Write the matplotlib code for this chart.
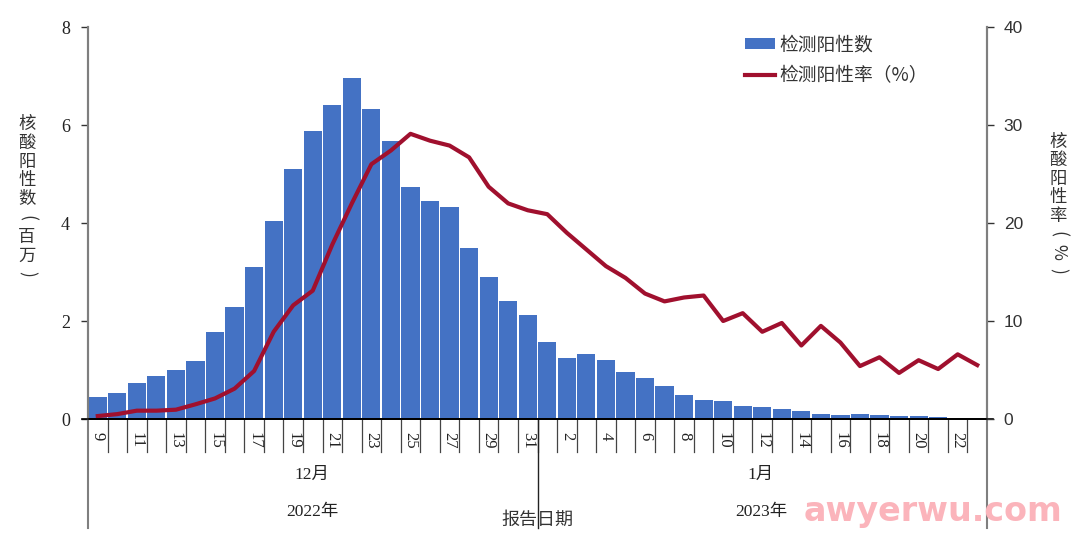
import matplotlib
matplotlib.use("Agg")
import matplotlib.pyplot as plt
import numpy as np
from matplotlib.transforms import blended_transform_factory

plt.rcParams['font.family'] = ['Liberation Serif', 'Noto Sans CJK SC', 'DejaVu Sans']

day_labels = ["9", "10", "11", "12", "13", "14", "15", "16", "17", "18", "19", "20", "21", "22", "23",
              "24", "25", "26", "27", "28", "29", "30", "31",
              "1", "2", "3", "4", "5", "6", "7", "8", "9", "10", "11", "12", "13", "14", "15", "16",
              "17", "18", "19", "20", "21", "22", "23"]
positive_counts = [0.44, 0.53, 0.73, 0.87, 1.01, 1.19, 1.78, 2.28, 3.10, 4.05, 5.10, 5.88, 6.40, 6.95, 6.32,
                   5.67, 4.73, 4.45, 4.33, 3.50, 2.90, 2.40, 2.13,
                   1.57, 1.25, 1.33, 1.20, 0.95, 0.83, 0.67, 0.48, 0.39, 0.37, 0.27, 0.25, 0.21, 0.17, 0.11,
                   0.09, 0.11, 0.09, 0.06, 0.06, 0.04, 0.02, 0.0]
positive_rate = [0.3, 0.5, 0.85, 0.85, 0.95, 1.5, 2.1, 3.1, 4.9, 8.9, 11.6, 13.1, 17.8, 22.0, 26.0,
                 27.4, 29.1, 28.4, 27.9, 26.7, 23.7, 22.0, 21.3,
                 20.9, 19.0, 17.3, 15.6, 14.4, 12.8, 12.0, 12.4, 12.6, 10.0, 10.8, 8.9, 9.8, 7.5, 9.5,
                 7.8, 5.4, 6.3, 4.7, 6.0, 5.1, 6.6, 5.5]
left_ticks = [0, 2, 4, 6, 8]
right_ticks = [0, 10, 20, 30, 40]

BAR_COLOR = "#4472C4"
LINE_COLOR = "#A0102E"
GRAY = "#7F7F7F"
SANS = ["Noto Sans CJK SC", "DejaVu Sans"]
W, H = 1080, 543

fig = plt.figure(figsize=(W / 100, H / 100), dpi=100)
ax = fig.add_axes([88 / W, 1 - 419 / H, (987 - 88) / W, (419 - 27) / H])
ax2 = ax.twinx()

x = np.arange(len(day_labels))
bars = ax.bar(x, positive_counts, width=0.93, color=BAR_COLOR, zorder=2)
line, = ax2.plot(x, positive_rate, color=LINE_COLOR, lw=3, solid_joinstyle="round")

ax.set_xlim(-0.5, len(x) - 0.5)
ax.set_ylim(0, 8)
ax2.set_ylim(0, 40)
ax.set_yticks(left_ticks)
ax2.set_yticks(right_ticks)
ax.set_xticks([])
ax.tick_params(axis="y", length=5, width=1, labelsize=13, pad=8, color="#333333", labelcolor="#222222")
ax2.tick_params(axis="y", length=5, width=1, labelsize=12.5, pad=7, color="#333333", labelcolor="#333333")
for t in ax2.get_yticklabels():
    t.set_family(["Liberation Sans"])

for a in (ax, ax2):
    a.spines["top"].set_visible(False)
    a.spines["left"].set_color(GRAY)
    a.spines["right"].set_color(GRAY)
    a.spines["left"].set_linewidth(1.5)
    a.spines["right"].set_linewidth(1.5)
    a.spines["bottom"].set_color("black")
    a.spines["bottom"].set_linewidth(1.2)

# baseline sticks out a little past both spines
ax.plot([-0.8, len(x) - 0.2], [0, 0], color="black", lw=1.2, clip_on=False, zorder=3)

# category separators and day labels under the axis
trans = blended_transform_factory(ax.transData, ax.transAxes)
tick_low = (419 - 452) / 392
long_low = (419 - 528) / 392
for i in range(1, len(x)):
    ax.plot([i - 0.5, i - 0.5], [0, tick_low], transform=trans, color="#444444", lw=0.9, clip_on=False)
for i in range(0, len(x) - 1, 2):
    ax.text(i, -0.034, day_labels[i], transform=trans, rotation=270, ha="center", va="top",
            fontsize=12, color="#222222")
ax.plot([-0.5, -0.5], [0, long_low], transform=trans, color=GRAY, lw=1.5, clip_on=False)
ax.plot([22.5, 22.5], [0, long_low], transform=trans, color="#222222", lw=1, clip_on=False)
ax.plot([45.5, 45.5], [0, long_low], transform=trans, color=GRAY, lw=1.5, clip_on=False)


def fig_text(px, py, s, **kw):
    return fig.text(px / W, 1 - py / H, s, ha="center", va="center", **kw)


fig_text(312, 475, "12月", fontsize=12.5, color="#222222")
fig_text(312, 512, "2022年", fontsize=12.5, color="#222222")
fig_text(761, 475, "1月", fontsize=12.5, color="#222222")
fig_text(761, 512, "2023年", fontsize=12.5, color="#222222")
fig_text(537, 520, "报告日期", fontsize=13, color="#333333", family=SANS)


def stacked(px, top, step, s):
    # vertical title, one character at a time
    for k, ch in enumerate(s):
        rot = 270 if ch in "()%" else 0
        fig_text(px, top + k * step, ch, fontsize=12.5, color="#333333", rotation=rot, family=SANS)


stacked(27, 124, 18.8, "核酸阳性数(百万)")
stacked(1058, 142, 18.4, "核酸阳性率(%)")

ax.set_zorder(1)
ax2.set_zorder(2)
ax2.patch.set_visible(False)
leg = ax2.legend([bars, line], ["检测阳性数", "检测阳性率（%）"], frameon=False, loc="upper left",
                 bbox_to_anchor=((745 - 88) / 899, (419 - 34) / 392), fontsize=13.5, labelspacing=0.55,
                 handlelength=1.6, handleheight=0.55, handletextpad=0.25, borderaxespad=0, borderpad=0)
for t in leg.get_texts():
    t.set_color("#333333")
    t.set_family(SANS)

fig_text(933, 511, "awyerwu.com", fontsize=24, fontweight="bold", color="#FBB4BB",
         family=["DejaVu Sans"], zorder=5)

fig.savefig("out.png", dpi=100)
